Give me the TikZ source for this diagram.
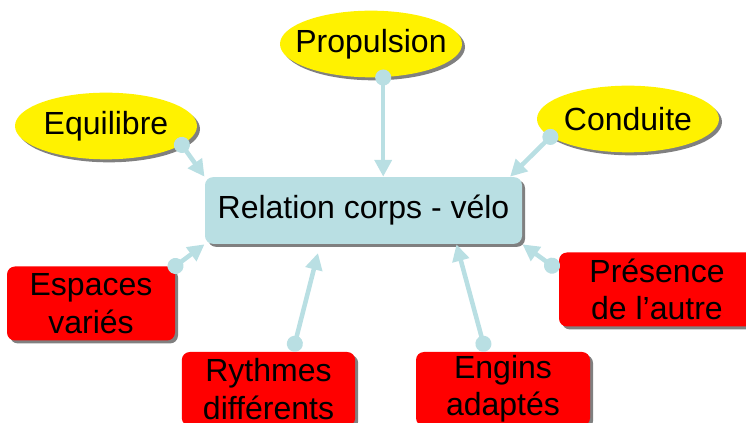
\documentclass[tikz,border=0pt]{standalone}
\usepackage{fontspec}
\setmainfont{Liberation Sans}
\usetikzlibrary{arrows.meta,shadows,shapes.geometric}

\definecolor{bleulien}{RGB}{185,223,227}
\definecolor{ombre}{RGB}{128,128,128}

\tikzset{every picture/.style={line width=0.75pt}}
\tikzset{
  ombree/.style={drop shadow={shadow xshift=2.25pt,shadow yshift=-2.25pt,fill=ombre,opacity=1}},
  ovale/.style={ellipse,fill=yellow,inner xsep=-25pt,inner ysep=0pt,minimum width=136.5pt,minimum height=50pt,ombree,font=\fontsize{24}{28}\selectfont},
  boite/.style={rectangle,rounded corners=6pt,fill=red,inner sep=0pt,minimum height=55.5pt,align=center,ombree,font=\fontsize{24}{28}\selectfont},
  centre/.style={rectangle,rounded corners=6pt,fill=bleulien,inner sep=0pt,minimum width=237.75pt,minimum height=50pt,ombree,font=\fontsize{24}{28}\selectfont},
  lien/.style={draw=bleulien,line width=3.4pt,{Circle[length=12pt]}-{Triangle[length=12.5pt,width=12.5pt]}},
}

\begin{document}
\begin{tikzpicture}[x=0.75pt,y=0.75pt,yscale=-1,xscale=1]
\useasboundingbox (0,0) rectangle (746,423);
\clip (0,0) rectangle (746,423);

%Central box
\node [centre] (rel) at (363.5,210.5) {Relation corps - vélo};

%Ellipses
\node [ovale] (equi) at (106,126) {Equilibre};
\node [ovale] (prop) at (371,44) {Propulsion};
\node [ovale] (cond) at (628,119) {Conduite};

%Rectangles
\node [boite,minimum width=126pt] (espa) at (91,303.5) {Espaces\\variés};
\node [boite,minimum width=130pt] (ryth) at (268.5,389) {Rythmes\\différents};
\node [boite,minimum width=130.5pt] (engi) at (503,389) {Engins\\adaptés};
\node [boite,minimum width=147pt] (pres) at (657,289.5) {Présence\\de l’autre};

%Links
\draw [lien,shorten <=-6pt] (equi.-14) -- (rel.north west) ;
\draw [lien,shorten <=-6pt] (prop.-70) -- (prop.-70 |- rel.north) ;
\draw [lien,shorten <=-6pt] (cond.-167) -- (rel.13) ;
\draw [lien,shorten <=-6pt] (espa.north east) -- (rel.south west) ;
\draw [lien,shorten >=6.75pt] (ryth.57) -- (rel.-142) ;
\draw [lien] (engi.115) -- (rel.-20.5) ;
\draw [lien] (pres.169) -- (rel.south east) ;

\end{tikzpicture}
\end{document}
